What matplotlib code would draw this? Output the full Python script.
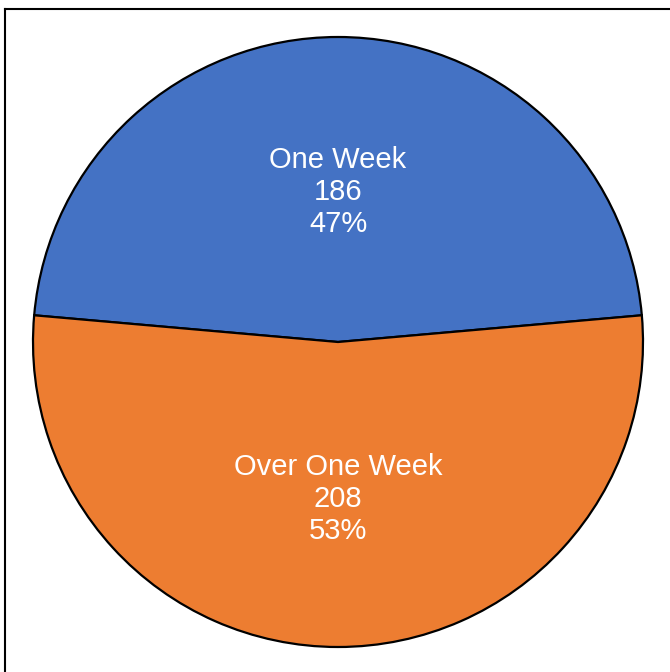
import matplotlib
matplotlib.use("Agg")
import matplotlib.pyplot as plt
from matplotlib.lines import Line2D
import math

categories = ["One Week", "Over One Week"]
values = [186, 208]
colors = ["#4472C4", "#ED7D31"]

plt.rcParams['font.family'] = ['Liberation Sans', 'DejaVu Sans']

W, H = 670, 672
fig = plt.figure(figsize=(W / 100, H / 100), dpi=100)

cx, cy, r = 338, 342, 305
ax = fig.add_axes([(cx - r) / W, (H - cy - r) / H, 2 * r / W, 2 * r / H])

total = sum(values)
blue_span = 360 * values[0] / total
start = 90 - blue_span / 2

wedges, _ = ax.pie(values, colors=colors, startangle=start, counterclock=True,
                   radius=1, wedgeprops=dict(edgecolor='black', linewidth=1.6))

for w, cat, v in zip(wedges, categories, values):
    ang = math.radians((w.theta1 + w.theta2) / 2)
    x, y = 0.503 * math.cos(ang), 0.503 * math.sin(ang) - 0.0116
    pct = round(100 * v / total)
    ax.text(x, y, f"{cat}\n{v}\n{pct}%", ha='center', va='center',
            color='white', fontsize=21, linespacing=1.19)

ax.set_xlim(-1, 1)
ax.set_ylim(-1, 1)
ax.set_aspect('equal')
ax.axis('off')

# frame (left and top edges visible)
fig.add_artist(Line2D([5 / W, 5 / W], [0, 1 - 9 / H], color='black', lw=1.5,
                      transform=fig.transFigure))
fig.add_artist(Line2D([5 / W, 1], [1 - 9 / H, 1 - 9 / H], color='black', lw=1.5,
                      transform=fig.transFigure))

fig.savefig("out.png", dpi=100, facecolor='white')
